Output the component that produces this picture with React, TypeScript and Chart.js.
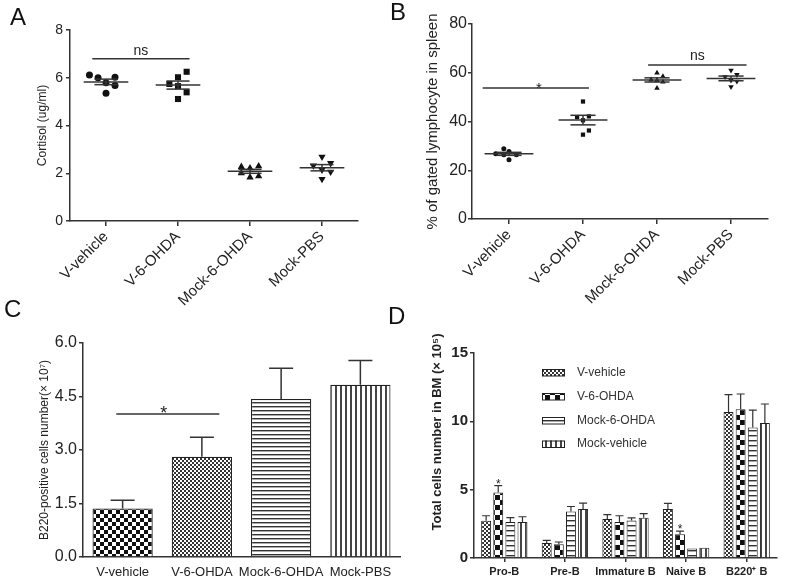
import React, { useEffect, useRef } from 'react';
import { Chart, registerables } from 'chart.js';

Chart.register(...registerables);

const FONT = '"Liberation Sans", Arial, Helvetica, sans-serif';
const INK = '#222222';
const AXIS = '#333333';

// ---------------- Panel A : cortisol (ug/ml) ----------------
const groupLabels = ['V-vehicle', 'V-6-OHDA', 'Mock-6-OHDA', 'Mock-PBS'];
const cortisolVVehicle = [6.12, 6.0, 5.79, 6.02, 5.68, 5.35];
const cortisolV6OHDA = [5.74, 6.02, 6.25, 5.65, 5.39, 5.11];
const cortisolMock6OHDA = [2.27, 2.21, 2.3, 2.0, 1.83, 1.88];
const cortisolMockPBS = [2.69, 2.32, 2.42, 2.14, 2.06, 1.76];
const cortisolJitterVVehicle = [-0.23, -0.11, 0, 0.125, 0.125, 0];
const cortisolJitterV6OHDA = [-0.12, 0, 0.12, 0, 0.12, 0];
const cortisolJitterMock6OHDA = [-0.12, 0, 0.12, -0.12, 0, 0.12];
const cortisolJitterMockPBS = [0, -0.12, 0.12, 0, 0.12, 0];

// ---------------- Panel B : % gated lymphocyte in spleen ----------------
const lymphVVehicle = [28.8, 27.7, 26.8, 26.4, 26.4, 24.3];
const lymphV6OHDA = [48.2, 41.8, 42.1, 40.5, 36.3, 34.6];
const lymphMock6OHDA = [59.9, 57.1, 58.5, 56.9, 56.2, 53.7];
const lymphMockPBS = [61.0, 58.3, 59.2, 56.9, 56.5, 54.2];
const lymphJitterVVehicle = [-0.07, 0, -0.18, -0.07, 0.1, 0];
const lymphJitterV6OHDA = [0, -0.08, 0.08, 0, 0.08, 0];
const lymphJitterMock6OHDA = [0, -0.08, 0.08, 0, 0.08, 0];
const lymphJitterMockPBS = [0, -0.08, 0.08, 0, 0.08, 0];

// ---------------- Panel C : B220+ cells in spleen (x10^7) ----------------
const b220Spleen = [1.36, 2.81, 4.43, 4.83];
const b220SpleenSem = [0.23, 0.55, 0.86, 0.68];

// ---------------- Panel D : B cells in BM (x10^5) ----------------
const bmStages = ['Pro-B', 'Pre-B', 'Immature B', 'Naive B', 'B220\u207A B'];
const bmSeriesNames = ['V-vehicle', 'V-6-OHDA', 'Mock-6-OHDA', 'Mock-vehicle'];
const bmVVehicle = [2.73, 1.1, 2.85, 3.58, 10.68];
const bmV6OHDA = [4.8, 1.0, 2.63, 1.74, 10.88];
const bmMock6OHDA = [2.63, 3.41, 2.75, 0.7, 9.55];
const bmMockVehicle = [2.63, 3.58, 2.95, 0.75, 9.87];
const bmVVehicleSem = [0.36, 0.19, 0.32, 0.42, 1.27];
const bmV6OHDASem = [0.49, 0.17, 0.46, 0.22, 1.12];
const bmMock6OHDASem = [0.32, 0.36, 0.18, 0, 1.27];
const bmMockVehicleSem = [0.39, 0.44, 0.3, 0, 1.4];

// ---------------- helpers ----------------
const mean = (a: number[]) => a.reduce((s, v) => s + v, 0) / a.length;
const semOf = (a: number[]) => {
  const m = mean(a);
  const sd = Math.sqrt(a.reduce((s, v) => s + (v - m) ** 2, 0) / (a.length - 1));
  return sd / Math.sqrt(a.length);
};

function makePattern(kind: string): CanvasPattern {
  const c = document.createElement('canvas');
  const g = c.getContext('2d')!;
  const bg = (w: number, h: number) => {
    c.width = w;
    c.height = h;
    g.fillStyle = '#ffffff';
    g.fillRect(0, 0, w, h);
    g.fillStyle = '#111111';
  };
  switch (kind) {
    case 'checker4':
      bg(8, 8);
      g.fillRect(0, 0, 4, 4);
      g.fillRect(4, 4, 4, 4);
      break;
    case 'checker5':
      bg(10, 10);
      g.fillRect(0, 0, 5, 5);
      g.fillRect(5, 5, 5, 5);
      break;
    case 'checker2':
      bg(4, 4);
      g.fillStyle = '#333333';
      g.fillRect(0, 0, 2, 2);
      g.fillRect(2, 2, 2, 2);
      break;
    case 'hlines4':
      bg(4, 4);
      g.fillStyle = '#333333';
      g.fillRect(0, 0, 4, 1);
      g.fillStyle = '#aaaaaa';
      g.fillRect(0, 1, 4, 1);
      break;
    case 'hlines5':
      bg(5, 5);
      g.fillStyle = '#333333';
      g.fillRect(0, 0, 5, 1);
      g.fillStyle = '#aaaaaa';
      g.fillRect(0, 1, 5, 1);
      break;
    case 'vlines5':
      bg(5, 5);
      g.fillStyle = '#444444';
      g.fillRect(0, 0, 2, 5);
      break;
    default:
      bg(2, 2);
  }
  return g.createPattern(c, 'repeat')!;
}

type Sig = { from: number; to: number; y: number; text: string; size: number; dy: number; dx?: number };

function sigPlugin(marks: Sig[]) {
  return {
    id: 'sig',
    afterDatasetsDraw(chart: any) {
      const { ctx } = chart;
      const x = chart.scales.x;
      const y = chart.scales.y;
      ctx.save();
      marks.forEach((m) => {
        const x1 = x.getPixelForValue(m.from);
        const x2 = x.getPixelForValue(m.to);
        const py = y.getPixelForValue(m.y);
        ctx.strokeStyle = AXIS;
        ctx.lineWidth = 1.5;
        ctx.beginPath();
        ctx.moveTo(x1, py);
        ctx.lineTo(x2, py);
        ctx.stroke();
        ctx.fillStyle = INK;
        ctx.font = `${m.size}px ${FONT}`;
        ctx.textAlign = 'center';
        ctx.textBaseline = 'alphabetic';
        ctx.fillText(m.text, (x1 + x2) / 2 + (m.dx || 0), py + m.dy);
      });
      ctx.restore();
    },
  };
}

function meanSemPlugin(groups: number[][], halfMean: number, halfSem: number) {
  return {
    id: 'meanSem',
    afterDatasetsDraw(chart: any) {
      const { ctx } = chart;
      const x = chart.scales.x;
      const y = chart.scales.y;
      ctx.save();
      ctx.strokeStyle = AXIS;
      ctx.lineWidth = 1.5;
      groups.forEach((vals, i) => {
        const g = i + 1;
        const m = mean(vals);
        const s = semOf(vals);
        const seg = (a: number, b: number, v: number) => {
          const py = y.getPixelForValue(v);
          ctx.beginPath();
          ctx.moveTo(x.getPixelForValue(a), py);
          ctx.lineTo(x.getPixelForValue(b), py);
          ctx.stroke();
        };
        seg(g - halfMean, g + halfMean, m);
        seg(g - halfSem, g + halfSem, m + s);
        seg(g - halfSem, g + halfSem, m - s);
        ctx.beginPath();
        ctx.moveTo(x.getPixelForValue(g), y.getPixelForValue(m - s));
        ctx.lineTo(x.getPixelForValue(g), y.getPixelForValue(m + s));
        ctx.stroke();
      });
      ctx.restore();
    },
  };
}

function barErrorPlugin(sems: number[][], capHalf: number, lw: number) {
  return {
    id: 'barErr',
    afterDatasetsDraw(chart: any) {
      const { ctx } = chart;
      const y = chart.scales.y;
      ctx.save();
      ctx.strokeStyle = AXIS;
      ctx.lineWidth = lw;
      chart.data.datasets.forEach((ds: any, di: number) => {
        const meta = chart.getDatasetMeta(di);
        meta.data.forEach((el: any, i: number) => {
          const e = sems[di][i];
          if (!e) return;
          const top = y.getPixelForValue(ds.data[i] + e);
          ctx.beginPath();
          ctx.moveTo(el.x, el.y);
          ctx.lineTo(el.x, top);
          ctx.moveTo(el.x - capHalf, top);
          ctx.lineTo(el.x + capHalf, top);
          ctx.stroke();
        });
      });
      ctx.restore();
    },
  };
}

const baseOptions = (padTop: number, padRight: number) => ({
  responsive: false,
  animation: false as const,
  devicePixelRatio: 1,
  layout: { padding: { top: padTop, right: padRight, left: 0, bottom: 0 } },
  plugins: { legend: { display: false }, tooltip: { enabled: false } },
});

function scatterConfig(opts: {
  groups: number[][];
  jitters: number[][];
  radii: number[];
  yMax: number;
  yStep: number;
  title: string;
  titleSize: number;
  titlePad: number;
  tickSize: number;
  tickPad: number;
  xTickSize: number;
  padTop: number;
  padRight: number;
  yWidth: number;
  xHeight: number;
  sig: Sig[];
  halfMean: number;
  halfSem: number;
}) {
  const styles = ['circle', 'rect', 'triangle', 'triangle'];
  return {
    type: 'scatter',
    data: {
      datasets: opts.groups.map((vals, gi) => ({
        label: groupLabels[gi],
        data: vals.map((v, k) => ({ x: gi + 1 + opts.jitters[gi][k], y: v })),
        pointStyle: styles[gi],
        pointRotation: gi === 3 ? 180 : 0,
        pointRadius: opts.radii[gi],
        backgroundColor: '#111111',
        borderColor: '#111111',
        borderWidth: 0,
      })),
    },
    options: {
      ...baseOptions(opts.padTop, opts.padRight),
      scales: {
        x: {
          type: 'linear',
          min: 0.5,
          max: 4.5,
          afterBuildTicks: (s: any) => {
            s.ticks = groupLabels.map((_, i) => ({ value: i + 1 }));
          },
          afterFit: (s: any) => {
            s.height = opts.xHeight;
          },
          ticks: {
            callback: (v: any) => groupLabels[Math.round(v) - 1],
            autoSkip: false,
            minRotation: 45,
            maxRotation: 45,
            padding: 2,
            color: INK,
            font: { family: FONT, size: opts.xTickSize },
          },
          grid: { drawOnChartArea: false, drawTicks: true, tickLength: 5, color: AXIS, lineWidth: 1.5 },
          border: { color: AXIS, width: 1.5 },
        },
        y: {
          min: 0,
          max: opts.yMax,
          afterFit: (s: any) => {
            s.width = opts.yWidth;
          },
          ticks: { stepSize: opts.yStep, padding: opts.tickPad, color: INK, font: { family: FONT, size: opts.tickSize } },
          grid: { drawOnChartArea: false, drawTicks: true, tickLength: 4, color: AXIS, lineWidth: 1.5 },
          border: { color: AXIS, width: 1.5 },
          title: {
            display: true,
            text: opts.title,
            color: INK,
            font: { family: FONT, size: opts.titleSize },
            padding: { top: opts.titlePad, bottom: 0 },
          },
        },
      },
    },
    plugins: [meanSemPlugin(opts.groups, opts.halfMean, opts.halfSem), sigPlugin(opts.sig)],
  };
}

function configA() {
  return scatterConfig({
    groups: [cortisolVVehicle, cortisolV6OHDA, cortisolMock6OHDA, cortisolMockPBS],
    jitters: [cortisolJitterVVehicle, cortisolJitterV6OHDA, cortisolJitterMock6OHDA, cortisolJitterMockPBS],
    radii: [3.5, 4.3, 4.2, 4.2],
    yMax: 8,
    yStep: 2,
    title: 'Cortisol (ug/ml)',
    titleSize: 12,
    titlePad: 35,
    tickSize: 14,
    tickPad: 3,
    xTickSize: 15,
    padTop: 30,
    padRight: 32,
    yWidth: 70,
    xHeight: 89,
    sig: [{ from: 0.81, to: 2.16, y: 6.8, text: 'ns', size: 14, dy: -4 }],
    halfMean: 0.31,
    halfSem: 0.16,
  });
}

function configB() {
  return scatterConfig({
    groups: [lymphVVehicle, lymphV6OHDA, lymphMock6OHDA, lymphMockPBS],
    jitters: [lymphJitterVVehicle, lymphJitterV6OHDA, lymphJitterMock6OHDA, lymphJitterMockPBS],
    radii: [2.5, 3, 3.2, 3.2],
    yMax: 80,
    yStep: 20,
    title: '% of gated lymphocyte in spleen',
    titleSize: 15,
    titlePad: 34,
    tickSize: 16,
    tickPad: 1,
    xTickSize: 15,
    padTop: 24,
    padRight: 20,
    yWidth: 82,
    xHeight: 91,
    sig: [
      { from: 0.645, to: 2.08, y: 53.7, text: '*', size: 15, dy: 4.5, dx: 3 },
      { from: 2.88, to: 4.21, y: 63.2, text: 'ns', size: 14, dy: -5 },
    ],
    halfMean: 0.33,
    halfSem: 0.17,
  });
}

function configC() {
  const pats = [makePattern('checker4'), makePattern('checker2'), makePattern('hlines4'), makePattern('vlines5')];
  return {
    type: 'bar',
    data: {
      labels: groupLabels,
      datasets: [
        {
          label: 'B220-positive cells',
          data: b220Spleen,
          backgroundColor: pats,
          borderColor: '#222222',
          borderWidth: 1.2,
          barPercentage: 0.76,
          categoryPercentage: 1.0,
        },
      ],
    },
    options: {
      ...baseOptions(53, 5),
      scales: {
        x: {
          afterFit: (s: any) => {
            s.height = 26;
          },
          ticks: { autoSkip: false, maxRotation: 0, padding: 8, color: INK, font: { family: FONT, size: 13 } },
          grid: { drawOnChartArea: false, drawTicks: false },
          border: { color: AXIS, width: 1.5 },
        },
        y: {
          min: 0,
          max: 6,
          afterFit: (s: any) => {
            s.width = 83;
          },
          ticks: {
            stepSize: 1.5,
            padding: 2,
            color: INK,
            font: { family: FONT, size: 16 },
            callback: (v: any) => Number(v).toFixed(1),
          },
          grid: { drawOnChartArea: false, drawTicks: true, tickLength: 4, color: AXIS, lineWidth: 1.5 },
          border: { color: AXIS, width: 1.5 },
          title: {
            display: true,
            text: 'B220-positive cells number(\u00D7 10\u2077)',
            color: INK,
            font: { family: FONT, size: 12 },
            padding: { top: 37, bottom: 0 },
          },
        },
      },
    },
    plugins: [
      barErrorPlugin([b220SpleenSem], 12, 1.5),
      sigPlugin([{ from: -0.08, to: 1.22, y: 4.01, text: '*', size: 18, dy: 5, dx: -4 }]),
    ],
  };
}

function configD() {
  const pats = [makePattern('checker2'), makePattern('checker5'), makePattern('hlines5'), makePattern('vlines5')];
  const values = [bmVVehicle, bmV6OHDA, bmMock6OHDA, bmMockVehicle];
  const sems = [bmVVehicleSem, bmV6OHDASem, bmMock6OHDASem, bmMockVehicleSem];
  const starMarks = [
    { ds: 1, i: 0 },
    { ds: 1, i: 3 },
  ];
  const legendPlugin = {
    id: 'dLegend',
    afterDraw(chart: any) {
      const { ctx } = chart;
      const rows = [82.5, 106.5, 130.5, 154];
      ctx.save();
      chart.data.datasets.forEach((ds: any, k: number) => {
        const cy = rows[k];
        ctx.fillStyle = ds.backgroundColor;
        ctx.fillRect(152, cy - 3.5, 23, 7);
        ctx.strokeStyle = '#222222';
        ctx.lineWidth = 1;
        ctx.strokeRect(152.5, cy - 3, 22, 6.5);
        ctx.fillStyle = '#333333';
        ctx.font = `12px ${FONT}`;
        ctx.textAlign = 'left';
        ctx.textBaseline = 'middle';
        ctx.fillText(ds.label, 187, cy);
      });
      // y-axis title
      ctx.translate(47, 142);
      ctx.rotate(-Math.PI / 2);
      ctx.font = `bold 13px ${FONT}`;
      ctx.textAlign = 'center';
      ctx.textBaseline = 'middle';
      ctx.fillStyle = INK;
      ctx.fillText('Total cells number in BM (\u00D7 10\u2075)', 0, 0);
      ctx.restore();
    },
  };
  const starPlugin = {
    id: 'dStars',
    afterDatasetsDraw(chart: any) {
      const { ctx } = chart;
      const y = chart.scales.y;
      ctx.save();
      ctx.fillStyle = INK;
      ctx.font = `12px ${FONT}`;
      ctx.textAlign = 'center';
      ctx.textBaseline = 'alphabetic';
      starMarks.forEach((m) => {
        const el = chart.getDatasetMeta(m.ds).data[m.i];
        const top = y.getPixelForValue(values[m.ds][m.i] + sems[m.ds][m.i]);
        ctx.fillText('*', el.x, top + 2);
      });
      ctx.restore();
    },
  };
  return {
    type: 'bar',
    data: {
      labels: bmStages,
      datasets: bmSeriesNames.map((name, k) => ({
        label: name,
        data: values[k],
        backgroundColor: pats[k],
        borderColor: '#222222',
        borderWidth: 1,
        barPercentage: 0.82,
        categoryPercentage: 0.8,
      })),
    },
    options: {
      ...baseOptions(63, 11),
      scales: {
        x: {
          afterFit: (s: any) => {
            s.height = 25;
          },
          ticks: {
            autoSkip: false,
            maxRotation: 0,
            padding: 3,
            color: INK,
            font: { family: FONT, size: 11, weight: 'bold' },
          },
          grid: { offset: false, drawOnChartArea: false, drawTicks: true, tickLength: 4, color: AXIS, lineWidth: 1.5 },
          border: { color: AXIS, width: 1.5 },
        },
        y: {
          min: 0,
          max: 15,
          afterFit: (s: any) => {
            s.width = 84;
          },
          ticks: { stepSize: 5, padding: 2, color: INK, font: { family: FONT, size: 15, weight: 'bold' } },
          grid: { drawOnChartArea: false, drawTicks: true, tickLength: 4, color: AXIS, lineWidth: 1.5 },
          border: { color: AXIS, width: 1.5 },
        },
      },
    },
    plugins: [barErrorPlugin(sems, 4, 1.2), starPlugin, legendPlugin],
  };
}

function ChartPanel(props: { left: number; top: number; width: number; height: number; build: () => any }) {
  const ref = useRef<HTMLCanvasElement>(null);
  useEffect(() => {
    const chart = new Chart(ref.current as HTMLCanvasElement, props.build());
    return () => chart.destroy();
  }, []);
  return (
    <canvas
      ref={ref}
      width={props.width}
      height={props.height}
      style={{ position: 'absolute', left: props.left, top: props.top, width: props.width, height: props.height }}
    />
  );
}

function PanelLetter(props: { text: string; left: number; top: number }) {
  return (
    <div
      style={{
        position: 'absolute',
        left: props.left,
        top: props.top,
        fontFamily: FONT,
        fontSize: 24,
        lineHeight: '24px',
        color: '#111',
      }}
    >
      {props.text}
    </div>
  );
}

export default function App() {
  return (
    <div style={{ position: 'absolute', left: 0, top: 0, width: 788, height: 583, background: '#fff', overflow: 'hidden' }}>
      <ChartPanel left={0} top={0} width={390} height={310} build={configA} />
      <ChartPanel left={390} top={0} width={398} height={310} build={configB} />
      <ChartPanel left={0} top={290} width={405} height={293} build={configC} />
      <ChartPanel left={390} top={290} width={398} height={293} build={configD} />
      <PanelLetter text="A" left={10} top={5} />
      <PanelLetter text="B" left={390} top={0} />
      <PanelLetter text="C" left={4} top={297} />
      <PanelLetter text="D" left={388} top={304} />
    </div>
  );
}
